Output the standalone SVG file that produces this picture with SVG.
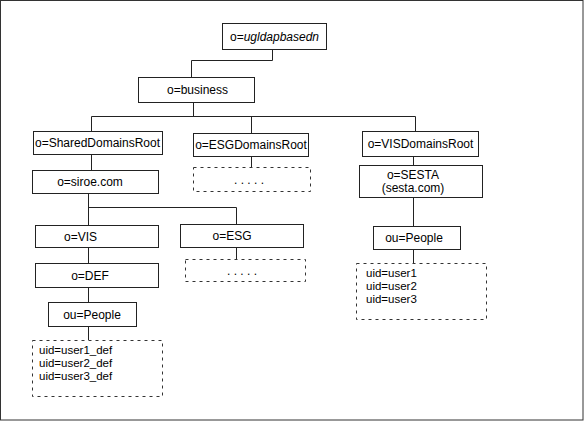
<svg xmlns="http://www.w3.org/2000/svg" width="584" height="421" viewBox="0 0 584 421">
<style>
.box{fill:#fff;stroke:#222;stroke-width:1}
.dash{fill:none;stroke:#333;stroke-width:1;stroke-dasharray:3,4}
.ln{fill:none;stroke:#222;stroke-width:1}
text{font-family:"Liberation Sans",Arial,sans-serif;font-size:12px;fill:#000}
.c{text-anchor:middle}
.u{font-size:11.5px}
</style>
<rect x="0.5" y="0.5" width="582.5" height="419.5" fill="#fff" stroke="#333"/>
<g id="connectors">
<path class="ln" d="M272.5 49V60.5H191.5V77"/>
<path class="ln" d="M193.5 102V116.5"/>
<path class="ln" d="M91.5 116.5H415.5"/>
<path class="ln" d="M91.5 116.5V131"/>
<path class="ln" d="M251.5 116.5V133"/>
<path class="ln" d="M415.5 116.5V132"/>
<path class="ln" d="M91.5 155V170"/>
<path class="ln" d="M88.5 193V225"/>
<path class="ln" d="M88.5 207.5H236.5V224"/>
<path class="ln" d="M251.5 157V167"/>
<path class="ln" d="M236.5 247V259"/>
<path class="ln" d="M88.5 247V263"/>
<path class="ln" d="M88.5 287V302"/>
<path class="ln" d="M88.5 327V340"/>
<path class="ln" d="M413.5 157V165"/>
<path class="ln" d="M413.5 198V226"/>
<path class="ln" d="M413.5 249V263"/>
</g>
<g id="root">
<rect class="box" x="222.5" y="23.5" width="104" height="26"/>
<text class="c" x="274.5" y="41">o=<tspan font-style="italic">ugldapbasedn</tspan></text>
</g>
<g id="business">
<rect class="box" x="138.5" y="77.5" width="116" height="25"/>
<text class="c" x="197.5" y="94">o=business</text>
</g>
<g id="shared">
<rect class="box" x="33.5" y="131.5" width="129" height="23"/>
<text class="c" x="97.5" y="147">o=SharedDomainsRoot</text>
</g>
<g id="esgroot">
<rect class="box" x="193.5" y="133.5" width="115" height="23"/>
<text class="c" x="251" y="149">o=ESGDomainsRoot</text>
</g>
<g id="visroot">
<rect class="box" x="362.5" y="131.5" width="116" height="25"/>
<text class="c" x="420.5" y="148">o=VISDomainsRoot</text>
</g>
<g id="siroe">
<rect class="box" x="32.5" y="170.5" width="126" height="23"/>
<text class="c" x="90" y="186">o=siroe.com</text>
</g>
<g id="esgroot-children">
<rect class="dash" x="193.5" y="167.5" width="117" height="24"/>
<text class="c" x="249" y="184">. . . . .</text>
</g>
<g id="sesta">
<rect class="box" x="359.5" y="165.5" width="123" height="32"/>
<text class="c" x="413" y="179">o=SESTA</text>
<text class="c" x="413" y="192">(sesta.com)</text>
</g>
<g id="vis">
<rect class="box" x="35.5" y="225.5" width="123" height="22"/>
<text x="64" y="241">o=VIS</text>
</g>
<g id="esg">
<rect class="box" x="180.5" y="224.5" width="123" height="23"/>
<text class="c" x="232" y="240">o=ESG</text>
</g>
<g id="esg-children">
<rect class="dash" x="185.5" y="259.5" width="120" height="22"/>
<text class="c" x="242" y="275">. . . . .</text>
</g>
<g id="people-right">
<rect class="box" x="373.5" y="226.5" width="87" height="23"/>
<text class="c" x="414" y="242">ou=People</text>
</g>
<g id="users-right">
<rect class="dash" x="356.5" y="263.5" width="130" height="56"/>
<text class="u" x="366" y="277">uid=user1</text>
<text class="u" x="366" y="290">uid=user2</text>
<text class="u" x="366" y="303">uid=user3</text>
</g>
<g id="def">
<rect class="box" x="35.5" y="263.5" width="123" height="24"/>
<text class="c" x="90" y="280">o=DEF</text>
</g>
<g id="people-left">
<rect class="box" x="48.5" y="302.5" width="88" height="24"/>
<text class="c" x="92" y="319">ou=People</text>
</g>
<g id="users-left">
<rect class="dash" x="32.5" y="340.5" width="130" height="56"/>
<text class="u" x="39" y="354">uid=user1_def</text>
<text class="u" x="39" y="367">uid=user2_def</text>
<text class="u" x="39" y="380">uid=user3_def</text>
</g>
</svg>
